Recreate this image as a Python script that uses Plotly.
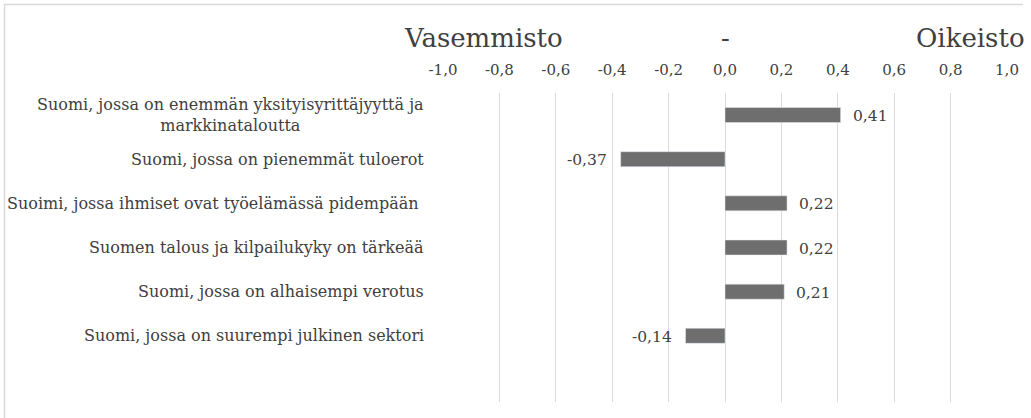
import plotly.graph_objects as go

categories = [
    "Suomi, jossa on enemmän yksityisyrittäjyyttä ja<br>markkinataloutta",
    "Suomi, jossa on pienemmät tuloerot",
    "Suoimi, jossa ihmiset ovat työelämässä pidempään ",
    "Suomen talous ja kilpailukyky on tärkeää",
    "Suomi, jossa on alhaisempi verotus",
    "Suomi, jossa on suurempi julkinen sektori",
    " ",
]
values = [0.41, -0.37, 0.22, 0.22, 0.21, -0.14, None]
tick_vals = [-1.0, -0.8, -0.6, -0.4, -0.2, 0.0, 0.2, 0.4, 0.6, 0.8, 1.0]
tick_text = ["-1,0", "-0,8", "-0,6", "-0,4", "-0,2", "0,0", "0,2", "0,4", "0,6", "0,8", "1,0"]
title_parts = ["Vasemmisto", "-", "Oikeisto"]

FONT = "DejaVu Serif"
TXT = "#404040"

fig = go.Figure(
    go.Bar(
        x=values,
        y=categories,
        orientation="h",
        width=0.34,
        marker=dict(color="#6e6e6e"),
        hoverinfo="skip",
    )
)

# plot area in pixels: x 443..1007, y 93..402
W, H = 1031, 418
L, R, T, B = 443, 1031 - 1007, 93, 418 - 402
pw, ph = W - L - R, H - T - B

def px(xp):
    return (xp - L) / pw

def py(yp):
    return (H - B - yp) / ph

annotations = []
for c in categories:
    annotations.append(dict(
        x=0, xref="paper", xanchor="right", xshift=-17,
        y=c, yref="y", yanchor="middle",
        text=c, showarrow=False, align="center",
        font=dict(family=FONT, size=16, color=TXT),
    ))

# data labels
for c, v in zip(categories, values):
    if v is None:
        continue
    pos = v >= 0
    annotations.append(dict(
        x=v, xref="x", xanchor="left" if pos else "right", xshift=10 if pos else -12,
        y=c, yref="y", yanchor="middle", yshift=-1,
        text=f"{v:.2f}".replace(".", ","), showarrow=False,
        font=dict(family=FONT, size=15.5, color=TXT),
    ))

title_x = [-0.857, 0.0, 0.87]
for t, xv in zip(title_parts, title_x):
    annotations.append(dict(
        x=xv, xref="x", xanchor="center",
        y=py(38), yref="paper", yanchor="middle",
        text=t, showarrow=False,
        font=dict(family=FONT, size=26, color=TXT),
    ))

shapes = [
    dict(type="line", xref="paper", yref="paper", x0=px(4), x1=px(1023), y0=py(4.5), y1=py(4.5),
         line=dict(color="#d9d9d9", width=1.5)),
    dict(type="line", xref="paper", yref="paper", x0=px(4.5), x1=px(4.5), y0=py(4), y1=py(418),
         line=dict(color="#d9d9d9", width=1.5)),
]

fig.update_layout(
    width=W, height=H,
    margin=dict(l=L, r=R, t=T, b=B, pad=0),
    paper_bgcolor="white", plot_bgcolor="white",
    showlegend=False,
    font=dict(family=FONT, color=TXT),
    xaxis=dict(
        side="top", range=[-1.0, 1.0],
        tickvals=tick_vals, ticktext=tick_text,
        showgrid=True, gridcolor="#d9d9d9", gridwidth=1,
        zeroline=False, showline=False, ticks="",
        ticklabelstandoff=14,
        tickfont=dict(family=FONT, size=15, color=TXT),
        fixedrange=True,
    ),
    yaxis=dict(
        categoryorder="array", categoryarray=categories,
        range=[6.5, -0.5],
        showticklabels=False, showgrid=False, zeroline=False, showline=False, ticks="",
        fixedrange=True,
    ),
    annotations=annotations,
    shapes=shapes,
)

fig.write_html(
    "out.html",
    config={"displayModeBar": False},
    post_script="document.body.style.margin='0px';document.body.style.overflow='hidden';",
)
